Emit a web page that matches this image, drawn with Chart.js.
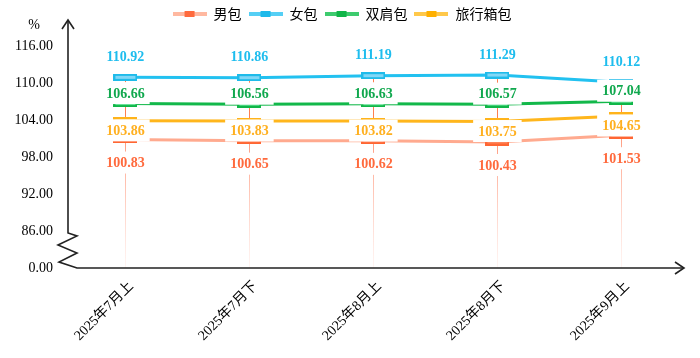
<!DOCTYPE html>
<html><head><meta charset="utf-8">
<script src="https://cdn.jsdelivr.net/npm/chart.js@4"></script>
<style>html,body{margin:0;padding:0;background:#fff}</style>
</head><body>
<canvas id="c" width="700" height="358"></canvas>
<script>
// ---- data ----
const categories = ['2025年7月上','2025年7月下','2025年8月上','2025年8月下','2025年9月上'];
const seriesNames = ['男包','女包','双肩包','旅行箱包'];
const menBag     = [100.83,100.65,100.62,100.43,101.53];
const womenBag   = [110.92,110.86,111.19,111.29,110.12];
const backpack   = [106.66,106.56,106.63,106.57,107.04];
const luggage    = [103.86,103.83,103.82,103.75,104.65];
const yTickValues = [80,86,92,98,104,110,116];
const yTickLabels = ['0.00','86.00','92.00','98.00','104.00','110.00','116.00'];
const yUnit = '%';

// ---- styles ----
const lineColors   = ['#FFAA8F','#22C1F0','#12B84A','#FFB61C'];
const markFill     = ['#FF8256','#80D7F7','#5BE08F','#FFD066'];
const markStroke   = ['#FF6633','#1EBBEA','#10B648','#FFB31A'];
const labelColors  = ['#FF6A3D','#1EBDEE','#10A84E','#FFB020'];
const legLine      = ['#FFB8A0','#55CFF5','#3DCB6E','#FFC84A'];
const legRect      = ['#FF6A3D','#1EB9EA','#10B548','#FFB000'];
const labelOffsets = [23,-21,-10.5,9.5];
const serif = '"Liberation Serif","Noto Sans CJK SC",serif';

function makeMarker(fill, stroke){
  const c=document.createElement('canvas'); c.width=24; c.height=7;
  const g=c.getContext('2d'); g.fillStyle=stroke; g.fillRect(0,0,24,7);
  g.fillStyle=fill; g.fillRect(2,2,20,3); return c;
}
function makeLegend(lc, rc){
  const c=document.createElement('canvas'); c.width=34; c.height=6;
  const g=c.getContext('2d'); g.fillStyle=lc; g.fillRect(0,1,34,4);
  g.fillStyle=rc; g.fillRect(12,0,10,6); return c;
}
const markers = markFill.map((f,i)=>makeMarker(f,markStroke[i]));
const legendImgs = legLine.map((l,i)=>makeLegend(l,legRect[i]));
const seriesValues = [menBag,womenBag,backpack,luggage];

const datasets = seriesNames.map((name,i)=>({
  label:name,
  data: seriesValues[i].map((v,j)=>({x:j,y:v})),
  borderColor: lineColors[i],
  backgroundColor: lineColors[i],
  borderWidth: 3,
  tension: 0,
  pointStyle: markers[i],
  pointRadius: 6,
  pointHoverRadius: 6
}));

const axisPlugin = {
  id:'axisPlugin',
  beforeDatasetsDraw(chart){
    const ctx=chart.ctx, xs=chart.scales.x, ys=chart.scales.y;
    const bottom = ys.getPixelForValue(yTickValues[0]);
    ctx.save();
    categories.forEach((c,j)=>{
      const vals = seriesValues.map(s=>s[j]);
      const x = Math.round(xs.getPixelForValue(j))+0.5;
      const yTop = ys.getPixelForValue(Math.max(...vals));
      const yMin = ys.getPixelForValue(Math.min(...vals));
      ctx.strokeStyle='#FF7F50'; ctx.lineWidth=1;
      ctx.beginPath(); ctx.moveTo(x,yTop); ctx.lineTo(x,yMin); ctx.stroke();
      const g=ctx.createLinearGradient(0,yMin,0,bottom);
      g.addColorStop(0,'rgba(255,150,120,0.95)');
      g.addColorStop(1,'rgba(255,190,175,0.15)');
      ctx.strokeStyle=g;
      ctx.beginPath(); ctx.moveTo(x,yMin); ctx.lineTo(x,bottom); ctx.stroke();
    });
    ctx.restore();
  },
  afterDraw(chart){
    const ctx=chart.ctx, ys=chart.scales.y, ca=chart.chartArea;
    const L = ca.left, bottom = ys.getPixelForValue(yTickValues[0]);
    const b = ys.getPixelForValue(yTickValues[1])+2;
    ctx.save();
    ctx.strokeStyle='#222'; ctx.lineWidth=1.6; ctx.lineJoin='miter';
    ctx.beginPath();
    ctx.moveTo(L,20); ctx.lineTo(L,b);
    ctx.lineTo(L+9,b+3); ctx.lineTo(L-10,b+12); ctx.lineTo(L+9,b+20);
    ctx.lineTo(L-9,b+29); ctx.lineTo(L+9,bottom);
    ctx.lineTo(ca.right,bottom);
    ctx.stroke();
    ctx.beginPath();
    ctx.moveTo(L-6,29); ctx.lineTo(L,20); ctx.lineTo(L+6,29);
    ctx.moveTo(ca.right-9,bottom-6); ctx.lineTo(ca.right,bottom); ctx.lineTo(ca.right-9,bottom+6);
    ctx.stroke();
    ctx.fillStyle='#000'; ctx.font='14px '+serif; ctx.textAlign='center'; ctx.textBaseline='middle';
    ctx.fillText(yUnit,34,25);
    ctx.restore();
  },
  afterDatasetsDraw(chart){
    const ctx=chart.ctx;
    ctx.save();
    ctx.font='bold 14px '+serif; ctx.textAlign='center'; ctx.textBaseline='middle';
    chart.data.datasets.forEach((ds,i)=>{
      const meta=chart.getDatasetMeta(i);
      meta.data.forEach((pt,j)=>{
        const txt=seriesValues[i][j].toFixed(2);
        const w=ctx.measureText(txt).width;
        const ly=pt.y+labelOffsets[i];
        ctx.fillStyle='#fff';
        ctx.fillRect(pt.x-w/2-5, ly-11, w+10, 22);
        ctx.fillStyle=labelColors[i];
        ctx.fillText(txt,pt.x,ly+1);
      });
    });
    ctx.restore();
  }
};

new Chart(document.getElementById('c'),{
  type:'line',
  data:{datasets},
  options:{
    responsive:false, animation:false, devicePixelRatio:1,
    layout:{padding:{top:0,right:16,left:0,bottom:0}},
    plugins:{
      tooltip:{enabled:false},
      legend:{
        position:'top',
        labels:{
          usePointStyle:true, pointStyleWidth:34, padding:7,
          color:'#000', font:{size:14, family:'"Noto Sans CJK SC",sans-serif'},
          generateLabels(chart){
            const items=Chart.defaults.plugins.legend.labels.generateLabels(chart);
            items.forEach((it,i)=>{it.pointStyle=legendImgs[i];});
            return items;
          }
        }
      }
    },
    scales:{
      x:{
        type:'linear', min:-0.463, max:4.505,
        grid:{display:false}, border:{display:false},
        afterBuildTicks(s){ s.ticks = categories.map((c,i)=>({value:i})); },
        afterFit(s){ s.height = 90; },
        ticks:{
          autoSkip:false, minRotation:45, maxRotation:45, padding:2, labelOffset:6,
          color:'#000', font:{size:14, family:serif},
          callback:(v)=>categories[v]
        }
      },
      y:{
        type:'linear', min:80, max:118.43,
        grid:{display:false, drawTicks:false}, border:{display:false},
        afterBuildTicks(s){ s.ticks = yTickValues.map(v=>({value:v})); },
        afterFit(s){ s.width = 68; },
        ticks:{
          padding:15, color:'#000', font:{size:14, family:serif},
          callback:(v)=>yTickLabels[yTickValues.indexOf(v)]
        }
      }
    }
  },
  plugins:[axisPlugin]
});
</script>
</body></html>
